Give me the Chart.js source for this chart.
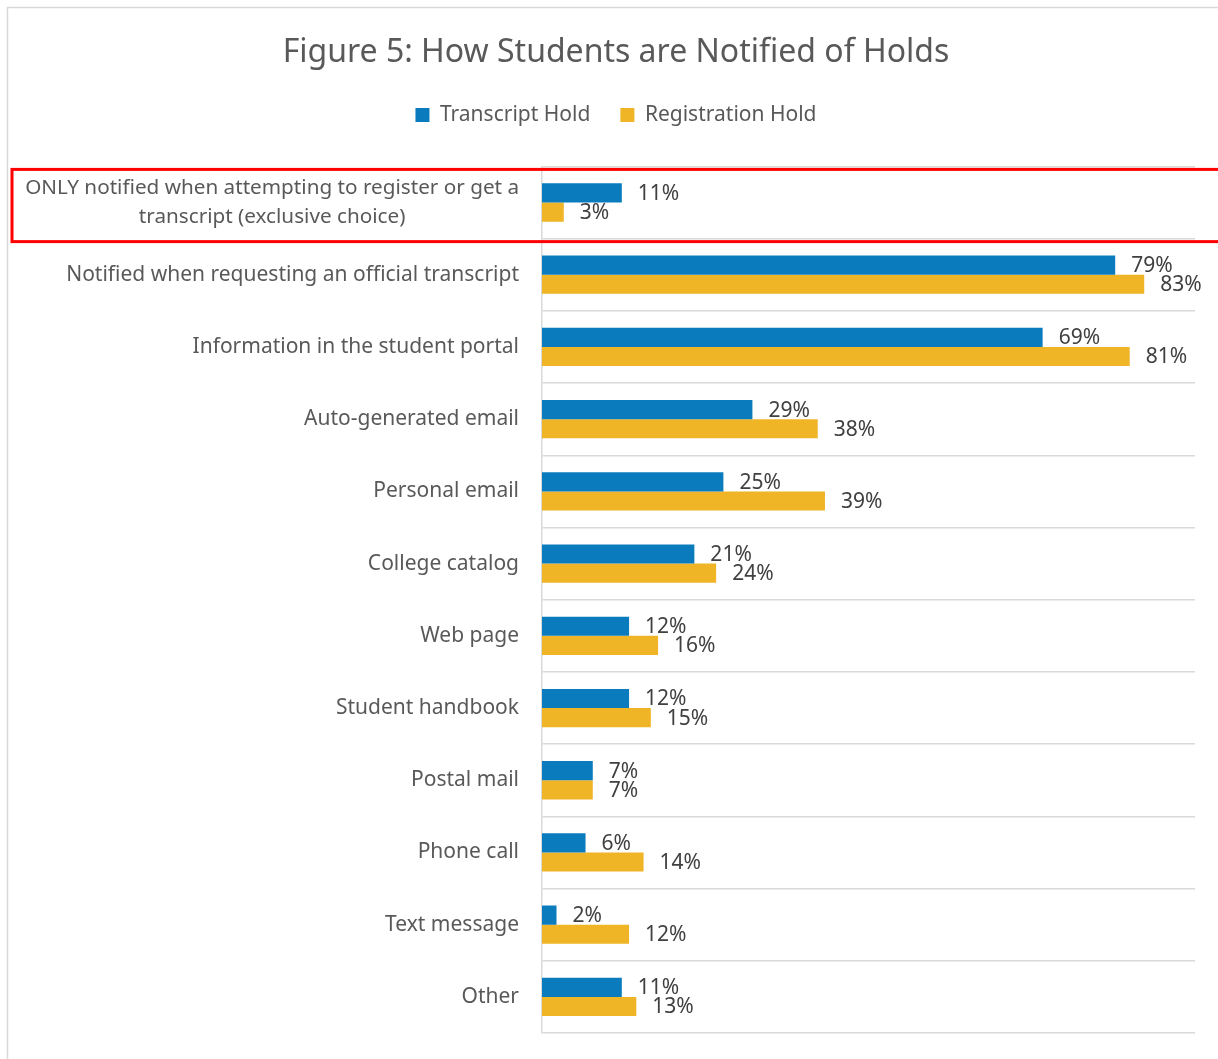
<!DOCTYPE html>
<html>
<head>
<meta charset="utf-8">
<script src="https://cdn.jsdelivr.net/npm/chart.js@4.4.1/dist/chart.umd.min.js"></script>
<style>
  html, body { margin: 0; padding: 0; background: #fff; overflow: hidden; }
  #wrap { width: 1218px; height: 1059px; }
</style>
</head>
<body>
<div id="wrap"><canvas id="holdsChart"></canvas></div>
<script>
// Chart data
const categories = [
  ['ONLY notified when attempting to register or get a', 'transcript (exclusive choice)'],
  'Notified when requesting an official transcript',
  'Information in the student portal',
  'Auto-generated email',
  'Personal email',
  'College catalog',
  'Web page',
  'Student handbook',
  'Postal mail',
  'Phone call',
  'Text message',
  'Other'
];
const transcriptHold = [11, 79, 69, 29, 25, 21, 12, 12, 7, 6, 2, 11];
const registrationHold = [3, 83, 81, 38, 39, 24, 16, 15, 7, 14, 12, 13];

const FONT = "'Noto Sans', 'Open Sans', sans-serif";
const TEXT = '#595959';

// outer chart frame
const framePlugin = {
  id: 'frame',
  beforeDraw(chart) {
    const c = chart.ctx;
    c.save();
    c.strokeStyle = '#d9d9d9';
    c.lineWidth = 1.5;
    c.strokeRect(7.5, 7.5, chart.width + 20, chart.height + 20);
    c.restore();
  }
};

// value labels at bar ends + first (centred, two-line) category label + red box
const labelsPlugin = {
  id: 'valueLabels',
  afterDatasetsDraw(chart) {
    const c = chart.ctx;
    c.save();
    c.font = '21px ' + FONT;
    c.fillStyle = '#404040';
    c.textBaseline = 'middle';
    c.textAlign = 'left';
    chart.data.datasets.forEach((ds, di) => {
      chart.getDatasetMeta(di).data.forEach((bar, i) => {
        c.fillText(ds.data[i] + '%', bar.x + 16, bar.y + 1);
      });
    });

    // first category label, lines centred on each other
    const y = chart.scales.y;
    const lines = categories[0];
    c.font = '20.7px ' + FONT;
    c.fillStyle = TEXT;
    c.textAlign = 'center';
    const maxW = Math.max(...lines.map(t => c.measureText(t).width));
    const cx = y.right - 23 - maxW / 2;
    const cy = y.getPixelForValue(0);
    c.fillText(lines[0], cx, cy - 14);
    c.fillText(lines[1], cx, cy + 15);

    // red highlight box around first row
    const half = (y.getPixelForValue(1) - cy) / 2;
    c.strokeStyle = '#ff0000';
    c.lineWidth = 3;
    c.strokeRect(12, cy - half + 3, chart.width + 10, half * 2);
    c.restore();
  }
};

const ctx = document.getElementById('holdsChart');
new Chart(ctx, {
  type: 'bar',
  data: {
    labels: categories,
    datasets: [
      {
        label: 'Transcript Hold',
        data: transcriptHold,
        backgroundColor: '#0a7cbd'
      },
      {
        label: 'Registration Hold',
        data: registrationHold,
        backgroundColor: '#f0b427'
      }
    ]
  },
  options: {
    indexAxis: 'y',
    responsive: true,
    maintainAspectRatio: false,
    animation: false,
    categoryPercentage: 0.53,
    barPercentage: 1.0,
    layout: { padding: { left: 37, right: 23, bottom: 26, top: 0 } },
    scales: {
      x: {
        // invisible top axis, only used as spacing under the legend
        position: 'top',
        min: 0,
        max: 90,
        ticks: { display: false },
        grid: { display: false, drawTicks: false },
        border: { display: false },
        afterFit(scale) { scale.height = 31; }
      },
      y: {
        afterFit(scale) {
          scale.width = 505;
          scale.paddingTop = 0;
          scale.paddingBottom = 0;
        },
        grid: {
          color: '#d9d9d9',
          lineWidth: 1.5,
          drawTicks: false
        },
        border: { display: true, color: '#d9d9d9', width: 1.5 },
        ticks: {
          padding: 23,
          color: TEXT,
          font: { family: FONT, size: 21 },
          callback(value, index) { return index === 0 ? '' : this.getLabelForValue(value); }
        }
      }
    },
    plugins: {
      title: {
        display: true,
        text: 'Figure 5: How Students are Notified of Holds',
        color: TEXT,
        font: { family: FONT, size: 32, weight: 'normal' },
        padding: { top: 34, bottom: 2 }
      },
      legend: {
        position: 'top',
        labels: {
          color: TEXT,
          font: { family: FONT, size: 21 },
          boxWidth: 14,
          boxHeight: 14,
          padding: 30
        }
      },
      tooltip: { enabled: false }
    }
  },
  plugins: [framePlugin, labelsPlugin]
});
</script>
</body>
</html>
